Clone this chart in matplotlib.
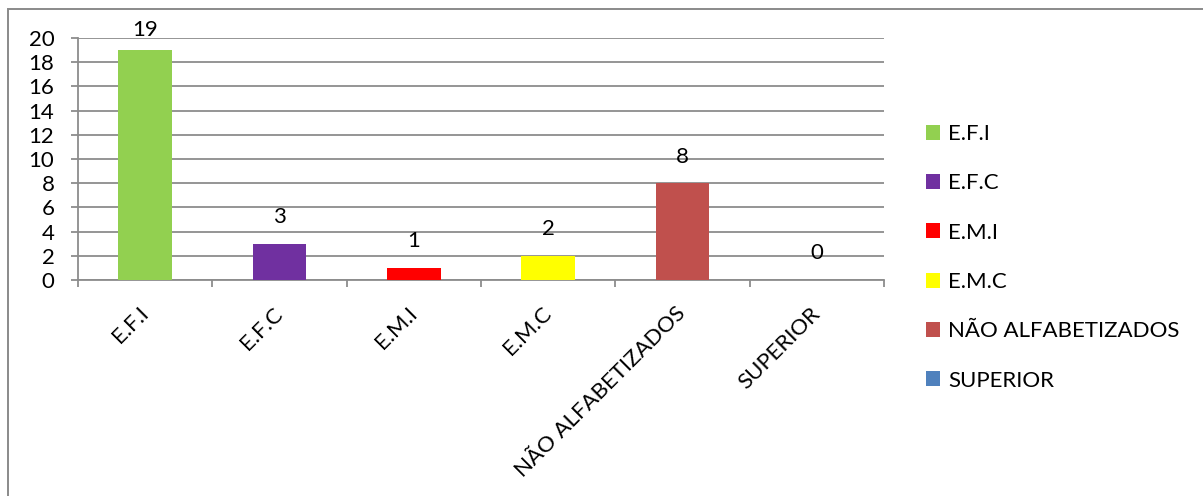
import numpy as np
import matplotlib.pyplot as plt
from matplotlib.patches import Rectangle

# -----------------------------------
# Data
# -----------------------------------
categories = ["E.F.I", "E.F.C", "E.M.I", "E.M.C", "NÃO ALFABETIZADOS", "SUPERIOR"]
values = [19, 3, 1, 2, 8, 0]
colors = ["#92D050", "#7030A0", "#FF0000", "#FFFF00", "#C0504D", "#4F81BD"]
yticks = [0, 2, 4, 6, 8, 10, 12, 14, 16, 18, 20]

plt.rcParams["font.family"] = ["Lato", "DejaVu Sans"]
FS = 16
GRID = "#8c8c8c"

# -----------------------------------
# Figure / axes
# -----------------------------------
W, H = 1203, 496
fig = plt.figure(figsize=(W / 100, H / 100), dpi=100)
ax = fig.add_axes([78 / W, 1 - 280 / H, (884 - 78) / W, (280 - 38) / H])

# outer chart border (left and top edges visible)
fig.patches.append(Rectangle((8 / W, -0.1), 1.2, (1 - 9 / H) + 0.1,
                             transform=fig.transFigure, fill=False,
                             edgecolor="#8a8a8a", linewidth=1.4))

x = np.arange(len(categories))
bars = ax.bar(x, values, width=0.4, color=colors, label=categories, zorder=3)

# value labels above each bar
label_y = np.minimum(np.array(values) + 2.2, 20.65)
for xi, v, ly in zip(x, values, label_y):
    ax.text(xi, ly, str(v), ha="center", va="center", fontsize=FS)

ax.set_xlim(-0.5, len(categories) - 0.5)
ax.set_ylim(0, 20)
ax.set_yticks(yticks)
ax.set_yticklabels([str(t) for t in yticks], fontsize=FS)
ax.yaxis.grid(True, color=GRID, linewidth=1.3, zorder=0)
ax.set_axisbelow(True)

# category boundaries get tick marks, centres get the labels
ax.set_xticks(np.arange(len(categories) + 1) - 0.5)
ax.set_xticklabels([])
ax.set_xticks(x, minor=True)
ax.set_xticklabels(categories, minor=True, fontsize=FS, rotation=45,
                   ha="right", va="center", rotation_mode="anchor")
ax.tick_params(axis="x", which="minor", length=0, pad=22)
ax.tick_params(axis="x", which="major", length=5, width=1.3, color=GRID)
ax.tick_params(axis="y", length=5, width=1.3, color=GRID, pad=12)

for s in ["top", "right"]:
    ax.spines[s].set_visible(False)
for s in ["left", "bottom"]:
    ax.spines[s].set_color(GRID)
    ax.spines[s].set_linewidth(1.3)

fig.legend(handles=list(bars), labels=categories, loc="upper left",
           bbox_to_anchor=(926 / W, 1 - 124 / H), frameon=False,
           fontsize=FS, handlelength=0.65, handleheight=0.65,
           handletextpad=0.35, labelspacing=1.32, borderpad=0,
           borderaxespad=0)

fig.savefig("out.png", dpi=100)
